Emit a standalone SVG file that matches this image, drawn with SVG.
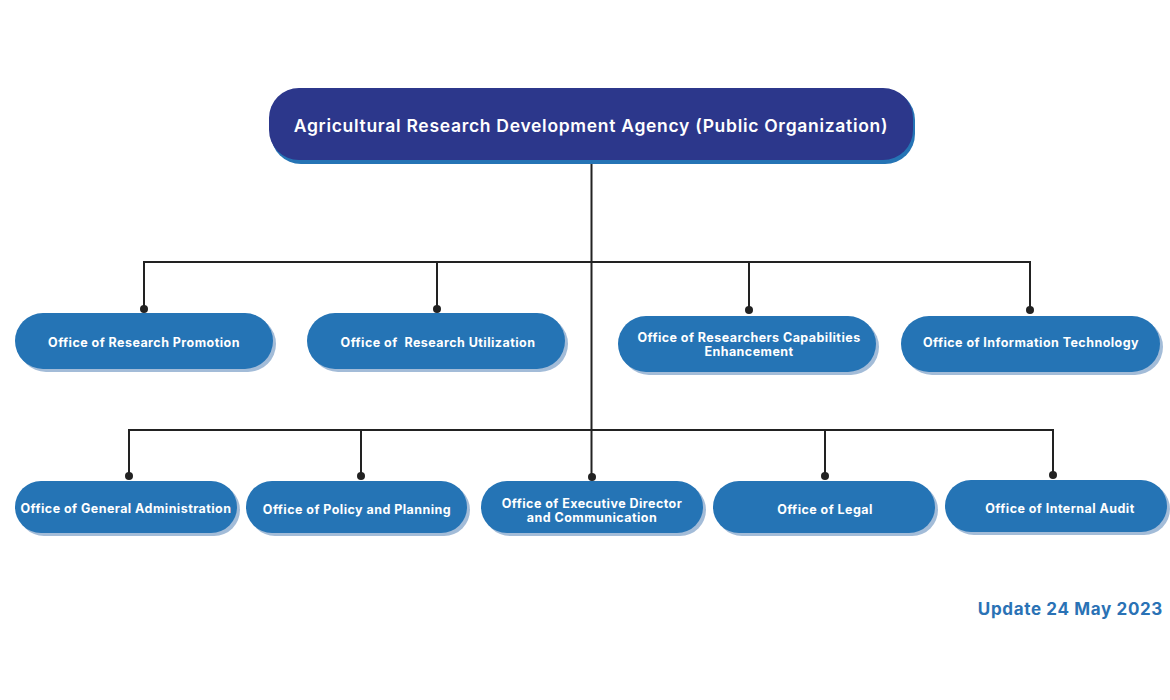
<svg xmlns="http://www.w3.org/2000/svg" width="1170" height="700" viewBox="0 0 1170 700">
<style>
.sh{fill:#a3bcd8}
.bx{fill:#2574b5}
.t{font-family:Inter,"Liberation Sans",sans-serif;font-weight:700;font-size:12.5px;fill:#fff;text-anchor:middle;letter-spacing:0.45px}
.ln{stroke:#222;stroke-width:2;fill:none}
.dot{fill:#222}
</style>
<rect width="1170" height="700" fill="#fff"/>
<g id="connectors">
<path class="ln" d="M591.5 162 V477"/>
<path class="ln" d="M144 309 V262 H1030 V309"/>
<path class="ln" d="M437 262 V309 M749 262 V309"/>
<path class="ln" d="M129 476 V430 H1053 V476"/>
<path class="ln" d="M361 430 V476 M825 430 V476"/>
<circle class="dot" cx="144" cy="309" r="4"/>
<circle class="dot" cx="437" cy="309" r="4"/>
<circle class="dot" cx="749" cy="310" r="4"/>
<circle class="dot" cx="1030" cy="310" r="4"/>
<circle class="dot" cx="129" cy="476" r="4"/>
<circle class="dot" cx="361" cy="476" r="4"/>
<circle class="dot" cx="592" cy="477" r="4"/>
<circle class="dot" cx="825" cy="476" r="4"/>
<circle class="dot" cx="1053" cy="475" r="4"/>
</g>
<g id="root">
<rect x="271" y="90" width="644" height="74" rx="30" fill="#2574b5"/>
<rect x="269" y="88" width="644" height="72" rx="30" fill="#2c378b"/>
<text x="591" y="132" font-family="Inter,'Liberation Sans',sans-serif" font-weight="600" font-size="17.5" fill="#fff" text-anchor="middle" letter-spacing="0.7">Agricultural Research Development Agency (Public Organization)</text>
</g>
<g id="n1">
<rect class="sh" x="18" y="316" width="258" height="56" rx="28"/>
<rect class="bx" x="15" y="313" width="258" height="56" rx="28"/>
<text class="t" x="144" y="347">Office of Research Promotion</text>
</g>
<g id="n2">
<rect class="sh" x="310" y="316" width="258" height="56" rx="28"/>
<rect class="bx" x="307" y="313" width="258" height="56" rx="28"/>
<text class="t" x="438" y="347" xml:space="preserve">Office of  Research Utilization</text>
</g>
<g id="n3">
<rect class="sh" x="621" y="319" width="258" height="56" rx="28"/>
<rect class="bx" x="618" y="316" width="258" height="56" rx="28"/>
<text class="t" x="749" y="342">Office of Researchers Capabilities</text>
<text class="t" x="749" y="356">Enhancement</text>
</g>
<g id="n4">
<rect class="sh" x="904" y="319" width="259" height="56" rx="28"/>
<rect class="bx" x="901" y="316" width="259" height="56" rx="28"/>
<text class="t" x="1031" y="347">Office of Information Technology</text>
</g>
<g id="n5">
<rect class="sh" x="18" y="484" width="222" height="52" rx="26"/>
<rect class="bx" x="15" y="481" width="222" height="52" rx="26"/>
<text class="t" x="126" y="513">Office of General Administration</text>
</g>
<g id="n6">
<rect class="sh" x="249" y="484" width="221" height="52" rx="26"/>
<rect class="bx" x="246" y="481" width="221" height="52" rx="26"/>
<text class="t" x="357" y="514">Office of Policy and Planning</text>
</g>
<g id="n7">
<rect class="sh" x="484" y="484" width="222" height="52" rx="26"/>
<rect class="bx" x="481" y="481" width="222" height="52" rx="26"/>
<text class="t" x="592" y="508">Office of Executive Director</text>
<text class="t" x="592" y="522">and Communication</text>
</g>
<g id="n8">
<rect class="sh" x="716" y="484" width="222" height="52" rx="26"/>
<rect class="bx" x="713" y="481" width="222" height="52" rx="26"/>
<text class="t" x="825" y="514">Office of Legal</text>
</g>
<g id="n9">
<rect class="sh" x="948" y="483" width="222" height="52" rx="26"/>
<rect class="bx" x="945" y="480" width="222" height="52" rx="26"/>
<text class="t" x="1060" y="513">Office of Internal Audit</text>
</g>
<text x="1163" y="615" font-family="Inter,'Liberation Sans',sans-serif" font-weight="700" font-size="17" fill="#2a72b5" text-anchor="end" letter-spacing="0.65">Update 24 May 2023</text>
</svg>
